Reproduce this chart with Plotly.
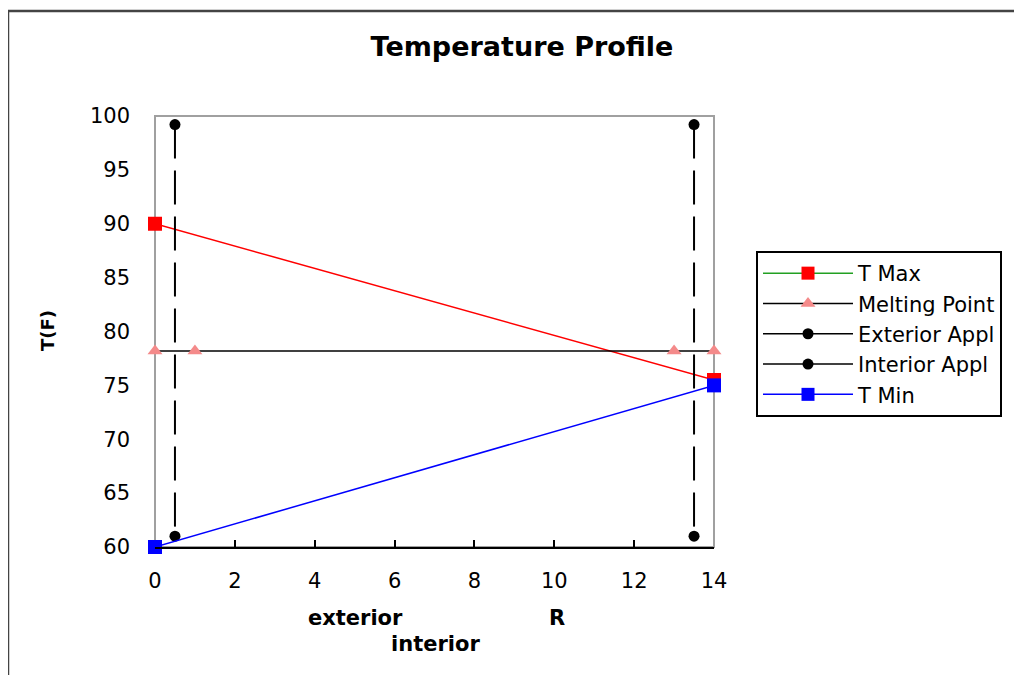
import plotly.graph_objects as go

# Data
tmax_x = [0, 14]
tmax_y = [90, 75.5]
tmin_x = [0, 14]
tmin_y = [60, 75]
melt_x = [0, 1, 13, 14]
melt_y = [78.2, 78.2, 78.2, 78.2]
ext_x = [0.5, 0.5]
ext_y = [99.2, 61.0]
int_x = [13.5, 13.5]
int_y = [99.2, 61.0]
x_ticks = [0, 2, 4, 6, 8, 10, 12, 14]
y_ticks = [60, 65, 70, 75, 80, 85, 90, 95, 100]

FONT = "DejaVu Sans, Verdana, sans-serif"
OFF = 8  # page body margin

# plot area in target pixel coords
PX0, PX1, PY0, PY1 = 155, 714, 116, 547
PW, PH = PX1 - PX0, PY1 - PY0


def px(x):
    return (x - PX0) / PW


def py(y):
    return (PY1 - y) / PH


fig = go.Figure()
# plotted traces
fig.add_trace(go.Scatter(x=tmax_x, y=tmax_y, name="T Max", mode="lines+markers", showlegend=False,
                         cliponaxis=False,
                         line=dict(color="red", width=1.5),
                         marker=dict(symbol="square", size=14, color="red")))
fig.add_trace(go.Scatter(x=melt_x, y=melt_y, name="Melting Point", mode="lines+markers", showlegend=False,
                         cliponaxis=False,
                         line=dict(color="black", width=1.5),
                         marker=dict(symbol="triangle-up", size=13, color="#f48a8a")))
fig.add_trace(go.Scatter(x=ext_x, y=ext_y, name="Exterior Appl", mode="lines+markers", showlegend=False,
                         cliponaxis=False,
                         line=dict(color="black", width=2, dash="34px,12px"),
                         marker=dict(symbol="circle", size=11, color="black")))
fig.add_trace(go.Scatter(x=int_x, y=int_y, name="Interior Appl", mode="lines+markers", showlegend=False,
                         cliponaxis=False,
                         line=dict(color="black", width=2, dash="34px,12px"),
                         marker=dict(symbol="circle", size=11, color="black")))
fig.add_trace(go.Scatter(x=tmin_x, y=tmin_y, name="T Min", mode="lines+markers", showlegend=False,
                         cliponaxis=False,
                         line=dict(color="blue", width=1.5),
                         marker=dict(symbol="square", size=14, color="blue")))

# legend entries (as in the original, legend swatches are solid)
legend_items = [
    ("T Max", "#22a022", "square", "red", 13),
    ("Melting Point", "black", "triangle-up", "#f48a8a", 13),
    ("Exterior Appl", "black", "circle", "black", 11),
    ("Interior Appl", "black", "circle", "black", 11),
    ("T Min", "blue", "square", "blue", 13),
]
for name, lc, sym, mc, ms in legend_items:
    fig.add_trace(go.Scatter(x=[None], y=[None], name=name, mode="lines+markers",
                             line=dict(color=lc, width=1.5),
                             marker=dict(symbol=sym, size=ms, color=mc)))

# outer frame
fig.add_shape(type="rect", xref="paper", yref="paper",
              x0=px(8), x1=px(1060), y0=py(700), y1=py(11),
              line=dict(color="#444444", width=2.5), layer="below")
# gray plot border
fig.add_shape(type="rect", xref="paper", yref="paper", x0=0, x1=1, y0=0, y1=1,
              line=dict(color="#a0a0a0", width=2), layer="below")

for txt, ax, ay in [("exterior", 355, 618), ("R", 557, 618), ("interior", 435, 644)]:
    fig.add_annotation(text=f"<b>{txt}</b>", xref="paper", yref="paper",
                       x=px(ax), y=py(ay), xanchor="center", yanchor="middle",
                       showarrow=False, font=dict(family=FONT, size=21, color="black"))
fig.add_annotation(text="<b>T(F)</b>", xref="paper", yref="paper",
                   x=px(47), y=py(331), xanchor="center", yanchor="middle", showarrow=False,
                   textangle=-90, font=dict(family=FONT, size=18, color="black"))

W, H = 1022 - OFF, 675 - OFF
L, T = PX0 - OFF, PY0 - OFF
fig.update_layout(
    width=W, height=H,
    margin=dict(l=L, r=W - L - PW, t=T, b=H - T - PH, pad=0),
    paper_bgcolor="white", plot_bgcolor="white",
    font=dict(family=FONT, size=21, color="black"),
    title=dict(text="<b>Temperature Profile</b>", x=(522 - OFF) / W, xanchor="center",
               y=1 - (47 - OFF) / H, yanchor="middle",
               font=dict(family=FONT, size=27, color="black")),
    showlegend=True,
    legend=dict(x=px(756), y=py(251), xanchor="left", yanchor="top",
                bordercolor="black", borderwidth=2, bgcolor="white",
                font=dict(family=FONT, size=21, color="black"),
                tracegroupgap=0, itemsizing="trace", itemwidth=90),
    xaxis=dict(range=[0, 14], tickvals=x_ticks, showgrid=False, zeroline=False,
               showline=True, linecolor="black", linewidth=2,
               ticks="inside", ticklen=7, tickcolor="black", tickwidth=1.5,
               ticklabelstandoff=14, tickfont=dict(family=FONT, size=21)),
    yaxis=dict(range=[60, 100], tickvals=y_ticks, showgrid=False, zeroline=False,
               showline=False, ticks="", ticklabelstandoff=24,
               tickfont=dict(family=FONT, size=21)),
)

fig.write_html("out.html")
